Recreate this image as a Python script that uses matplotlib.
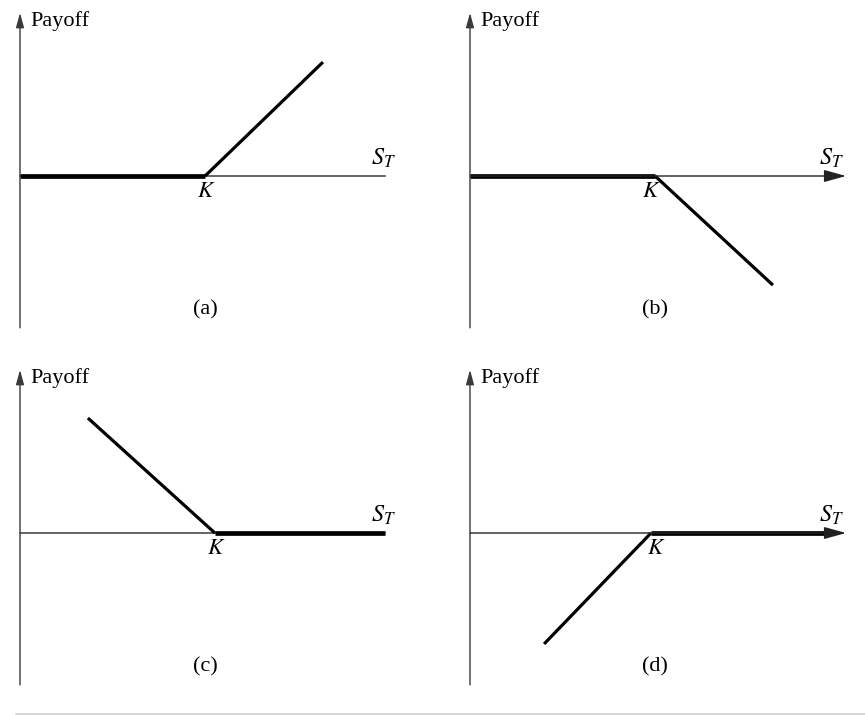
import matplotlib
matplotlib.use("Agg")
import matplotlib.pyplot as plt
from matplotlib.lines import Line2D

plt.rcParams["font.family"] = ["Liberation Serif", "DejaVu Serif"]
plt.rcParams["mathtext.fontset"] = "stix"

# ---- data (S_T units on x, payoff units on y, strike K) ----
S_MAX = 100
Y_TOP = 44.7
Y_BOT = -41.6

panel_names = ["(a)", "(b)", "(c)", "(d)"]
strikes = [50.7, 50.7, 53.4, 49.6]
# flat (zero-payoff) segment of each panel
flat_s = [[0, 50.7], [0, 50.7], [53.4, 100], [49.6, 99]]
# sloped segment of each panel
slope_s = [[50.7, 83.0], [50.7, 83.0], [18.6, 53.4], [20.3, 49.6]]
slope_pay = [[0, 31.2], [0, -29.9], [31.5, 0], [-30.4, 0]]
x_arrow = [False, True, False, True]

# origin of each panel in figure pixels
W, H = 865, 715
origins = [(20, 176), (470, 176), (20, 533), (470, 533)]
PX = 3.65  # pixels per data unit

fig = plt.figure(figsize=(W / 100, H / 100), dpi=100)

AX_COL = "#3a3a3a"
for name, k, fs, ss, sp, arr, (ox, oy) in zip(panel_names, strikes, flat_s, slope_s,
                                              slope_pay, x_arrow, origins):
    left, right = ox - 20, ox + 412
    top, bot = oy - 176, oy + 170
    ax = fig.add_axes([left / W, 1 - bot / H, (right - left) / W, (bot - top) / H])
    ax.set_xlim((left - ox) / PX, (right - ox) / PX)
    ax.set_ylim((oy - bot) / PX, (oy - top) / PX)
    ax.axis("off")

    # payoff
    ax.plot(fs, [0, 0], color="black", lw=3.4, solid_capstyle="butt", zorder=2)
    ax.plot(ss, sp, color="black", lw=2.3, solid_capstyle="butt", zorder=2)

    # y axis with arrow
    ax.annotate("", xy=(0, Y_TOP), xytext=(0, Y_BOT),
                arrowprops=dict(arrowstyle="-|>,head_length=0.8,head_width=0.22",
                                color=AX_COL, lw=1.0,
                                mutation_scale=11, shrinkA=0, shrinkB=0), zorder=3)
    # x axis
    if arr:
        ax.annotate("", xy=(103, 0), xytext=(0, 0),
                    arrowprops=dict(arrowstyle="-|>,head_length=0.9,head_width=0.25",
                                    color="#222222", lw=1.0,
                                    mutation_scale=15, shrinkA=0, shrinkB=0), zorder=3)
    else:
        ax.plot([0, S_MAX], [0, 0], color=AX_COL, lw=1.1, zorder=1)

    ax.text(2.9, 42.4, "Payoff", fontsize=16, ha="left", va="center")
    ax.text(S_MAX - 0.5 if not arr else 99, 4.8, r"$S_T$", fontsize=17.5, ha="center", va="center")
    kx = k + 0.3 if name != "(d)" else k + 1.5
    if name == "(b)":
        kx = k - 1.0
    ax.text(kx, -4.3, r"$K$", fontsize=16.5, ha="center", va="center")
    ax.text(50.7, -36.6, name, fontsize=16, ha="center", va="center")

fig.add_artist(Line2D([16 / W, 1], [1 - 714 / H, 1 - 714 / H], color="#d0d0d0", lw=1.2))

plt.savefig("out.png", dpi=100, facecolor="white")
plt.close()
